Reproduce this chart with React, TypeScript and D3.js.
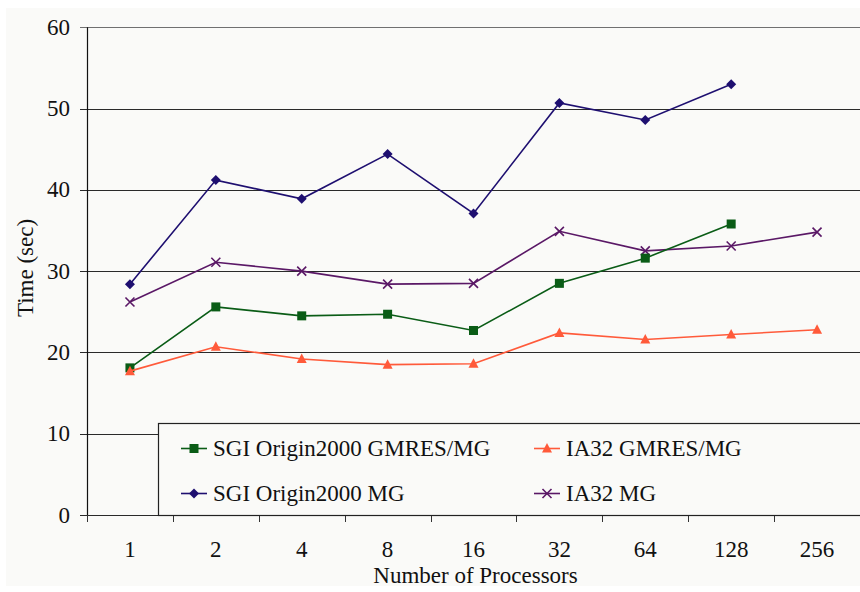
import React from "react";
import * as d3 from "d3";

const categories = ["1", "2", "4", "8", "16", "32", "64", "128", "256"];
const yTicks = [0, 10, 20, 30, 40, 50, 60];

const sgiGmresMg = [18.1, 25.6, 24.5, 24.7, 22.7, 28.5, 31.6, 35.8, null];
const ia32GmresMg = [17.7, 20.7, 19.2, 18.5, 18.6, 22.4, 21.6, 22.2, 22.8];
const sgiMg = [28.4, 41.2, 38.9, 44.4, 37.1, 50.7, 48.6, 53.0, null];
const ia32Mg = [26.2, 31.1, 30.0, 28.4, 28.5, 34.9, 32.5, 33.1, 34.8];

const seriesNames = ["SGI Origin2000 GMRES/MG", "IA32 GMRES/MG", "SGI Origin2000 MG", "IA32 MG"];

type Ser = { name: string; values: (number | null)[]; color: string; marker: string };

const series: Ser[] = [
  { name: seriesNames[2], values: sgiMg, color: "#1e0f70", marker: "diamond" },
  { name: seriesNames[3], values: ia32Mg, color: "#5a1866", marker: "x" },
  { name: seriesNames[0], values: sgiGmresMg, color: "#0a5c16", marker: "square" },
  { name: seriesNames[1], values: ia32GmresMg, color: "#ff5a3a", marker: "triangle" },
];

const FONT = "'Liberation Serif', 'Times New Roman', serif";

function Marker({ type, x, y, color }: { type: string; x: number; y: number; color: string }) {
  if (type === "square") return <rect x={x - 4.5} y={y - 4.5} width={9} height={9} fill={color} />;
  if (type === "diamond")
    return <path d={`M${x},${y - 5}L${x + 5},${y}L${x},${y + 5}L${x - 5},${y}Z`} fill={color} />;
  if (type === "triangle")
    return <path d={`M${x},${y - 5.5}L${x + 5},${y + 4}L${x - 5},${y + 4}Z`} fill={color} />;
  return (
    <path
      d={`M${x - 4.5},${y - 4.5}L${x + 4.5},${y + 4.5}M${x - 4.5},${y + 4.5}L${x + 4.5},${y - 4.5}`}
      stroke={color}
      strokeWidth={1.6}
      fill="none"
    />
  );
}

export default function App() {
  const W = 860;
  const H = 592;
  const left = 87;
  const right = 860;
  const top = 27.3;
  const bottom = 515;

  const x = d3.scaleBand<string>().domain(categories).range([left, right]).padding(0);
  const y = d3.scaleLinear().domain([0, 60]).range([bottom, top]);
  const cx = (c: string) => (x(c) as number) + x.bandwidth() / 2;

  const line = d3
    .line<[string, number | null]>()
    .defined((d) => d[1] != null)
    .x((d) => cx(d[0]))
    .y((d) => y(d[1] as number));

  const legendItems = [
    { s: series[2], lx: 194, ly: 448.5 },
    { s: series[3], lx: 547, ly: 448.5 },
    { s: series[0], lx: 194, ly: 493.5 },
    { s: series[1], lx: 547, ly: 493.5 },
  ];

  return (
    <svg
      width={W}
      height={H}
      style={{ position: "absolute", left: 0, top: 0, background: "#ffffff" }}
      fontFamily={FONT}
    >
      <rect x={6} y={8} width={W - 6} height={H - 14} fill="#fafaf8" />
      {/* gridlines */}
      {yTicks.map((t) => (
        <line
          key={"g" + t}
          x1={left - 7}
          x2={right}
          y1={Math.round(y(t)) + 0.5}
          y2={Math.round(y(t)) + 0.5}
          stroke={t === 60 ? "#707070" : "#2a2a2a"}
          strokeWidth={1}
        />
      ))}
      {/* y axis */}
      <line x1={left + 0.5} x2={left + 0.5} y1={top} y2={bottom} stroke="#111" strokeWidth={1.2} />
      {yTicks.map((t) => (
        <text key={"yt" + t} x={70} y={y(t) + 7.5} textAnchor="end" fontSize={23} fill="#111">
          {t}
        </text>
      ))}
      {/* x ticks */}
      {categories.map((c) => (
        <line
          key={"xt" + c}
          x1={Math.round(x(c) as number) + 0.5}
          x2={Math.round(x(c) as number) + 0.5}
          y1={bottom}
          y2={bottom + 7}
          stroke="#333"
        />
      ))}
      {categories.map((c) => (
        <text key={"xl" + c} x={cx(c)} y={557} textAnchor="middle" fontSize={23} fill="#111">
          {c}
        </text>
      ))}
      <text x={(left + right) / 2 + 2} y={582.5} textAnchor="middle" fontSize={23} fill="#111">
        Number of Processors
      </text>
      <text
        transform={`translate(33,268) rotate(-90)`}
        textAnchor="middle"
        fontSize={23}
        fill="#111"
      >
        Time (sec)
      </text>
      {/* series */}
      {series.map((s) => {
        const pts = categories.map((c, i) => [c, s.values[i]] as [string, number | null]);
        return (
          <g key={s.name}>
            <path d={line(pts) || ""} fill="none" stroke={s.color} strokeWidth={1.6} />
            {pts
              .filter((p) => p[1] != null)
              .map((p) => (
                <Marker key={p[0]} type={s.marker} x={cx(p[0])} y={y(p[1] as number)} color={s.color} />
              ))}
          </g>
        );
      })}
      {/* legend */}
      <rect x={158.5} y={423.5} width={720} height={92} fill="#fafaf8" stroke="#222" strokeWidth={1.2} />
      {legendItems.map(({ s, lx, ly }) => (
        <g key={"lg" + s.name}>
          <line x1={lx - 13} x2={lx + 13} y1={ly} y2={ly} stroke={s.color} strokeWidth={1.6} />
          <Marker type={s.marker} x={lx} y={ly} color={s.color} />
          <text x={lx + 19} y={ly + 7.5} fontSize={23} fill="#111">
            {s.name}
          </text>
        </g>
      ))}
    </svg>
  );
}
